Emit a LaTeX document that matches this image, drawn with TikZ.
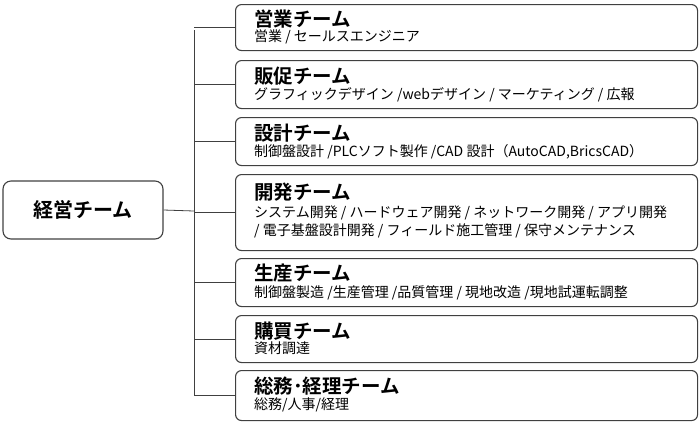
\documentclass[tikz,border=0pt]{standalone}
\usepackage{fontspec}
\newfontfamily\cjk{Noto Sans CJK JP}
\newfontfamily\cjkb{Noto Sans CJK JP Bold}
\begin{document}
\begin{tikzpicture}[x=1pt,y=-1pt]
  \tikzstyle{teambox}=[draw=black!75, line width=1.1pt, rounded corners=6pt, minimum width=462pt, anchor=north west, inner sep=0pt]
  \tikzstyle{title}=[anchor=west, inner sep=0pt, font=\cjkb\fontsize{19.5}{21}\selectfont]
  \tikzstyle{detail}=[anchor=north west, inner sep=0pt, align=left, font=\cjk\fontsize{14}{18}\selectfont]
  \useasboundingbox (0,0) rectangle (700,424);
  % Root
  \node[draw=black!75, line width=1.1pt, rounded corners=8pt, minimum width=160pt, minimum height=58pt, font=\cjkb\fontsize{20}{22}\selectfont] (root) at (83,210) {経営チーム};
  \coordinate (hub) at (194,211);
  % Team boxes
  \node[teambox, minimum height=46pt] (t1) at (235,4) {};
  \node[teambox, minimum height=48pt] (t2) at (235,60) {};
  \node[teambox, minimum height=48pt] (t3) at (235,117) {};
  \node[teambox, minimum height=76pt] (t4) at (235,174) {};
  \node[teambox, minimum height=48pt] (t5) at (235,258) {};
  \node[teambox, minimum height=47pt] (t6) at (235,315) {};
  \node[teambox, minimum height=50pt] (t7) at (235,370) {};
  % Texts
  \node[title] at (254,19) {営業チーム};
  \node[detail] at (254,30) {営業 / セールスエンジニア};
  \node[title] at (254,76) {販促チーム};
  \node[detail] at (254,87) {グラフィックデザイン /webデザイン / マーケティング / 広報};
  \node[title] at (254,133) {設計チーム};
  \node[detail] at (254,144) {制御盤設計 /PLCソフト製作 /CAD 設計（AutoCAD,BricsCAD）};
  \node[title] at (254,192) {開発チーム};
  \node[detail] at (254,206) {システム開発 / ハードウェア開発 / ネットワーク開発 / アプリ開発\\/ 電子基盤設計開発 / フィールド施工管理 / 保守メンテナンス};
  \node[title] at (254,273) {生産チーム};
  \node[detail] at (254,285) {制御盤製造 /生産管理 /品質管理 / 現地改造 /現地試運転調整};
  \node[title] at (254,331) {購買チーム};
  \node[detail] at (254,342) {資材調達};
  \node[title] at (254,386) {総務･経理チーム};
  \node[detail] at (254,398) {総務/人事/経理};
  % Connectors
  \draw[black!75, line width=0.8pt] (root.east) -- (hub);
  \draw[black!75, line width=0.8pt] (194,30) -- (194,395);
  \foreach \t in {t1,t2,t3,t4,t5,t6,t7}
    \draw[black!75, line width=0.8pt] (194,0 |- \t.west) -- (\t.west);
\end{tikzpicture}
\end{document}
